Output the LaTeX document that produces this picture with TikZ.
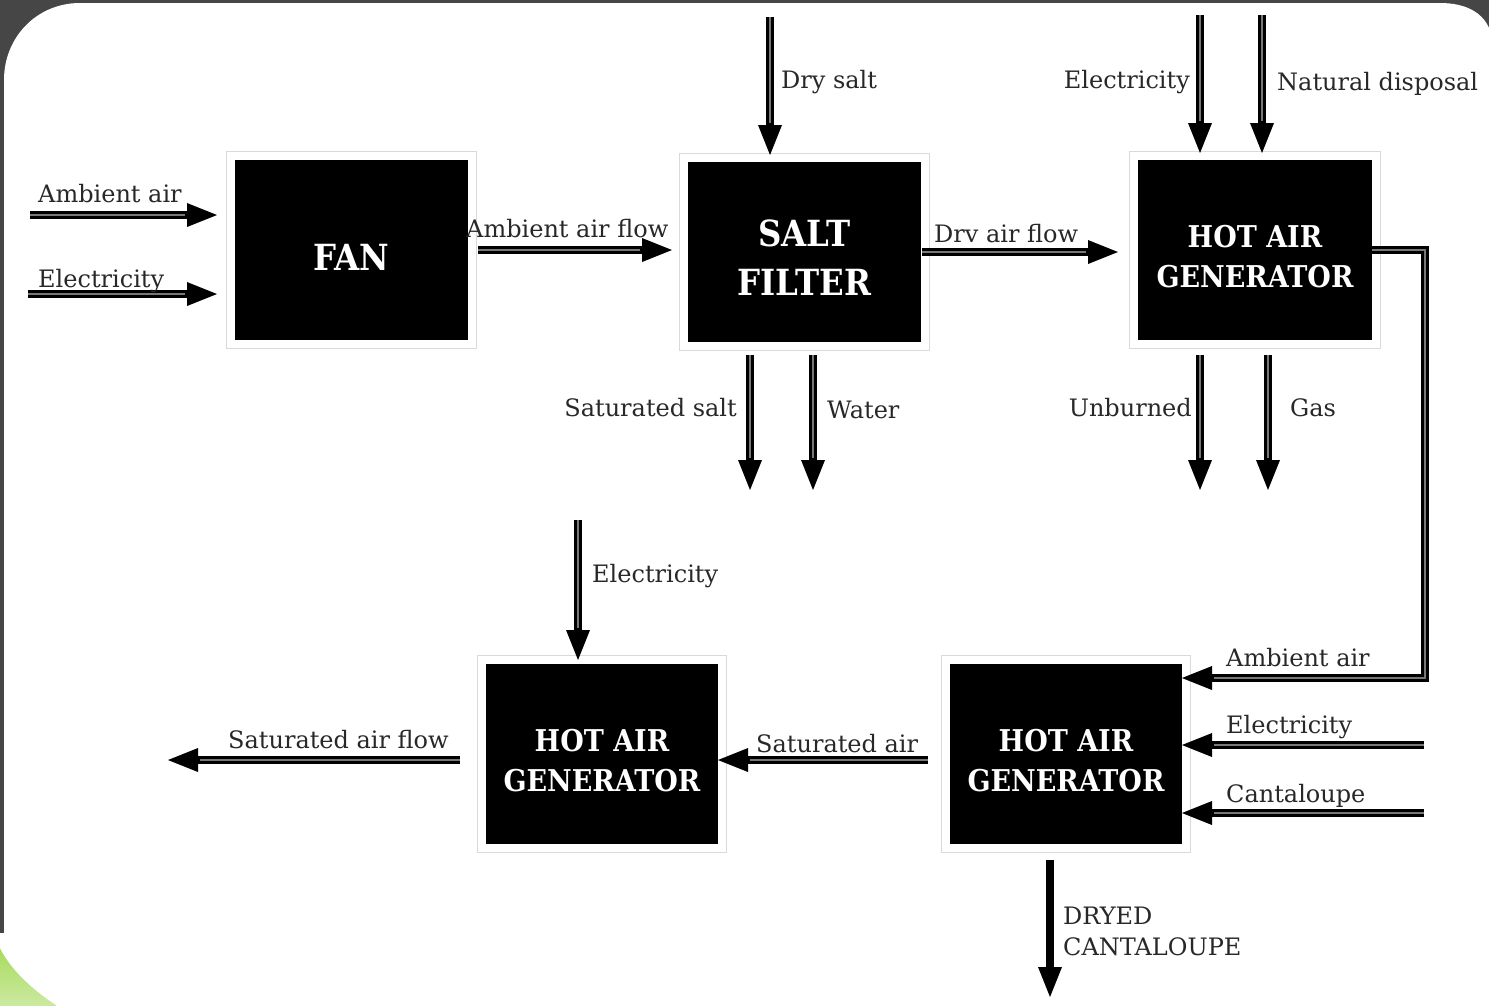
\documentclass[tikz,border=0pt]{standalone}
\usepackage{fontspec}
\setmainfont{DejaVu Serif}
\newfontfamily\unitfont[FakeStretch=0.9]{DejaVu Serif}
\usetikzlibrary{arrows.meta}
\definecolor{frame}{RGB}{70,70,70}
\definecolor{leafA}{RGB}{158,216,74}
\definecolor{leafB}{RGB}{206,234,166}
\definecolor{stripe}{RGB}{120,120,120}
\definecolor{ink}{RGB}{40,40,40}
\begin{document}
\begin{tikzpicture}[x=1pt,y=-1pt,
  unit box/.style={fill=black, text=white, align=center,
    minimum width=233pt, minimum height=180pt, inner sep=0pt, outer sep=0pt,
    preaction={draw=gray!30, line width=18pt},
    preaction={draw=white, line width=16pt}},
  big/.style={font=\unitfont\fontsize{36}{49}\selectfont\bfseries},
  mid/.style={font=\unitfont\fontsize{30}{40}\selectfont\bfseries},
  lbl/.style={font=\fontsize{24}{31}\selectfont, text=ink, inner sep=0pt},
  flow/.style={line width=8pt, -{Triangle[length=30pt,width=24pt,line width=0pt]},
    shorten >=#1,
    postaction={draw=stripe, line width=1.6pt, -, shorten >=#1+32pt}},
  flow/.default=0pt,
  plainflow/.style={line width=8pt, -{Triangle[length=30pt,width=24pt,line width=0pt]}}]

\useasboundingbox (0,0) rectangle (1489,1005);

% backdrop: dark frame, green corner, white panel
\fill[frame] (0,0) rectangle (1489,1005);
\shade[top color=leafA, bottom color=leafB] (0,933) rectangle (80,1010);
\fill[white] (4,933) -- (4,80) .. controls (4,37) and (37,3) .. (80,3)
  -- (1440,3) .. controls (1465,3) and (1482,12) .. (1489,28)
  -- (1495,28) -- (1495,1012) -- (60,1012) -- (56,1005)
  .. controls (30,988) and (10,968) .. (0,948)
  -- (0,933) -- cycle;

% process units (struts drop the text slightly below the box centre)
\node[unit box, big] (fan)  at (351.5,250) {\rule{0pt}{40pt}FAN};
\node[unit box, big] (salt) at (804.5,252) {\rule{0pt}{38pt}SALT\\FILTER};
\node[unit box, mid, minimum width=234pt] (hagA) at (1255,250) {\rule{0pt}{36pt}HOT AIR\\GENERATOR};
\node[unit box, mid, minimum width=232pt] (hagB) at (602,754) {\rule{0pt}{36pt}HOT AIR\\GENERATOR};
\node[unit box, mid, minimum width=232pt] (hagC) at (1066,754) {\rule{0pt}{36pt}HOT AIR\\GENERATOR};

% free ends of the streams
\coordinate (ain)  at (30,215);
\coordinate (ein)  at (28,294);
\coordinate (ds)   at (770,17);
\coordinate (et)   at (1200,15);
\coordinate (nd)   at (1262,15);
\coordinate (ss)   at (750,490);
\coordinate (wa)   at (813,490);
\coordinate (ub)   at (1200,490);
\coordinate (gs)   at (1268,490);
\coordinate (bend) at (1425,678);
\coordinate (er)   at (1424,745);
\coordinate (ct)   at (1424,813);
\coordinate (sf)   at (168,760);
\coordinate (eb)   at (578,520);
\coordinate (dc)   at (1050,997);

% streams
\draw[flow=18pt] (ain) -- (ain -| fan.west);
\draw[flow=18pt] (ein) -- (ein -| fan.west);
\draw[flow=16pt, shorten <=10pt] (fan.east) -- (fan.east -| salt.west);
\draw[flow=7pt] (ds) -- (ds |- salt.north);
\draw[flow=20pt, shorten <=1pt] (salt.east) -- (salt.east -| hagA.west);
\draw[flow=7pt] (et) -- (et |- hagA.north);
\draw[flow=7pt] (nd) -- (nd |- hagA.north);
\draw[flow, shorten <=13pt] (ss |- salt.south) -- (ss);
\draw[flow, shorten <=13pt] (wa |- salt.south) -- (wa);
\draw[flow, shorten <=15pt] (ub |- hagA.south) -- (ub);
\draw[flow, shorten <=15pt] (gs |- hagA.south) -- (gs);
\draw[flow] (hagA.east) -| (bend) -- (bend -| hagC.east);
\draw[flow] (er) -- (er -| hagC.east);
\draw[flow] (ct) -- (ct -| hagC.east);
\draw[flow, shorten <=22pt] ([yshift=-6pt]hagC.west) -- ([yshift=-6pt]hagB.east);
\draw[flow, shorten <=26pt] (sf -| hagB.west) -- (sf);
\draw[flow=4pt] (eb) -- (eb |- hagB.north);
\draw[plainflow, shorten <=16pt] (dc |- hagC.south) -- (dc);

% stream labels
\node[lbl, anchor=base west] (t1)  at (38,202)   {Ambient air};
\node[lbl, anchor=base west] (t2)  at (38,287)   {Electricity};
\node[lbl, anchor=base west] (t3)  at (466,237)  {Ambient air flow};
\node[lbl, anchor=base west] (t4)  at (781,88)   {Dry salt};
\node[lbl, anchor=base west] (t5)  at (934,242)  {Drv air flow};
\node[lbl, anchor=base east] (t6)  at (1190,88)  {Electricity};
\node[lbl, anchor=base west] (t7)  at (1277,90)  {Natural disposal};
\node[lbl, anchor=base east] (t8)  at (737,416)  {Saturated salt};
\node[lbl, anchor=base west] (t9)  at (827,418)  {Water};
\node[lbl, anchor=base east] (t10) at (1192,416) {Unburned};
\node[lbl, anchor=base west] (t11) at (1290,416) {Gas};
\node[lbl, anchor=base west] (t12) at (592,582)  {Electricity};
\node[lbl, anchor=base west] (t13) at (228,748)  {Saturated air flow};
\node[lbl, anchor=base west] (t14) at (756,752)  {Saturated air};
\node[lbl, anchor=base west] (t15) at (1226,666) {Ambient air};
\node[lbl, anchor=base west] (t16) at (1226,733) {Electricity};
\node[lbl, anchor=base west] (t17) at (1226,802) {Cantaloupe};
\node[lbl, anchor=west, align=left] (t18) at (1063,931) {DRYED\\CANTALOUPE};
\end{tikzpicture}
\end{document}
